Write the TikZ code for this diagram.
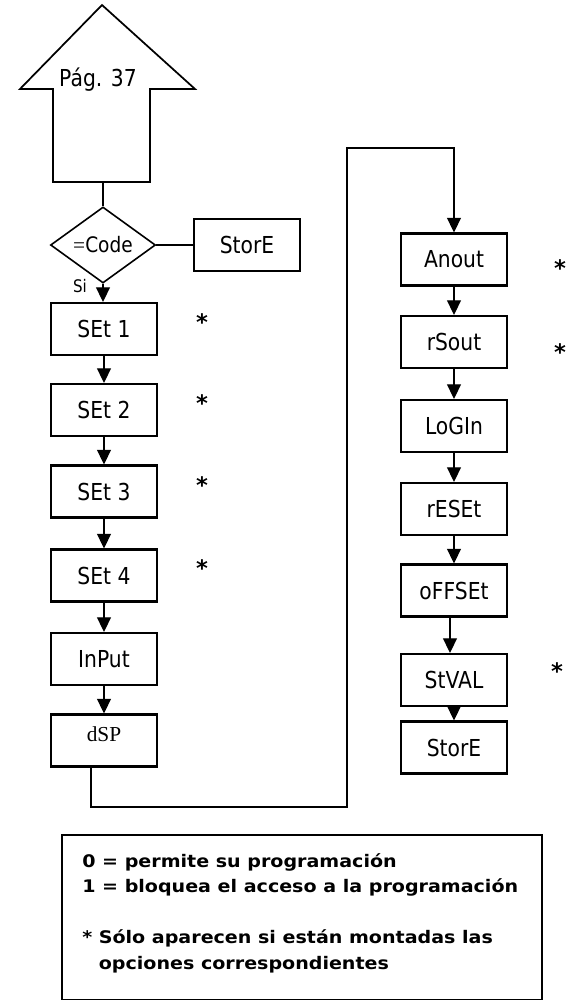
\documentclass[tikz,border=0pt]{standalone}
\usepackage{fontspec}
\setmainfont{DejaVu Sans}
\newfontfamily\boxfont[FakeStretch=0.87]{DejaVu Sans}
\newfontfamily\notefont[FakeStretch=1.1]{DejaVu Sans}
\newfontfamily\timesfont{Liberation Serif}
\usetikzlibrary{arrows.meta, shapes.geometric}
\tikzset{
    box/.style={rectangle, draw, line width=1.6pt, minimum width=79.5pt, minimum height=39pt, inner sep=0pt, font=\boxfont\fontsize{17.5}{20}\selectfont},
    decision/.style={diamond, draw, line width=1.2pt, minimum width=78.75pt, minimum height=38.25pt, inner sep=0pt, font=\boxfont\fontsize{16}{18}\selectfont},
    optmark/.style={inner sep=0pt, font=\bfseries\fontsize{17}{20}\selectfont},
    line/.style={-{Triangle[length=11pt, width=10.5pt]}, line width=1pt},
    wire/.style={line width=1pt}
}

\begin{document}
\begin{tikzpicture}[x=0.75pt, y=-0.75pt]
        	\useasboundingbox (0,0) rectangle (566,1001);
        	% flecha de entrada desde la pagina 37
        	\draw[line width=1.3pt] (102,5) -- (195,89) -- (150,89) -- (150,182) -- (53,182) -- (53,89) -- (20,89) -- cycle;
        	\node (pag) at (98,80) [font=\boxfont\fontsize{17.5}{20}\selectfont] {Pág. 37};
        	\coordinate (pagbot) at (103,182);
        	
        	% columna izquierda
        	\node (code) [decision] at (103,245) {{\timesfont =}Code};
        	\node (store1) [box] at (247,245) {StorE};
        	\node (si) at (80,286) [font=\boxfont\fontsize{13}{15}\selectfont] {Si};
        	\node (set1) [box] at (104,329) {SEt 1};
        	\node (set2) [box] at (104,410) {SEt 2};
        	\node (set3) [box] at (104,491.5) {SEt 3};
        	\node (set4) [box] at (104,575.5) {SEt 4};
        	\node (input) [box] at (104,659) {InPut};
        	\node (dSP) [box, font=\timesfont\fontsize{16}{18}\selectfont, text depth=10pt] at (104,740.5) {dSP};
        	
        	% columna derecha
        	\node (anout) [box] at (454,259.5) {Anout};
        	\node (rsout) [box] at (454,342) {rSout};
        	\node (login) [box] at (454,426) {LoGIn};
        	\node (reset) [box] at (454,509) {rESEt};
        	\node (offset) [box] at (454,590.5) {oFFSEt};
        	\node (stval) [box] at (454,680) {StVAL};
        	\node (store2) [box] at (454,747.5) {StorE};
        	
        	% opciones
        	\node (opt1) [optmark] at (202,322) {*};
        	\node (opt2) [optmark] at (202,403) {*};
        	\node (opt3) [optmark] at (202,485) {*};
        	\node (opt4) [optmark] at (202,568) {*};
        	\node (opt5) [optmark] at (560,268) {*};
        	\node (opt6) [optmark] at (560,352) {*};
        	\node (opt7) [optmark] at (557,671) {*};
        	
        	\draw[wire] (code.north |- pagbot) -- (code.north);
        	\draw[wire] (code.east) -- (code.east -| store1.west);
        	\draw[line] (code.south) -- (code.south |- set1.north);
        	\draw[line] (set1) -- (set2);
        	\draw[line] (set2) -- (set3);
        	\draw[line] (set3) -- (set4);
        	\draw[line] (set4) -- (input);
        	\draw[line] (input) -- (dSP);
        	
        	\coordinate (c1) at (91,807);
        	\coordinate (c2) at (347,148);
        	\draw[line] (dSP.south -| c1) -- (c1) -| (c2) -| (anout.north);
        	
        	\draw[line] (anout) -- (rsout);
        	\draw[line] (rsout) -- (login);
        	\draw[line] (login) -- (reset);
        	\draw[line] (reset) -- (offset);
        	\draw[line] ([xshift=-3pt]offset.south) -- ([xshift=-3pt]offset.south |- stval.north);
        	\draw[line] (stval) -- (store2);
        	
        	% leyenda
        	\draw[line width=1.4pt] (62,835) rectangle (542,999.5);
        	\node (legend) [anchor=north west, align=left, inner sep=0pt, font=\notefont\bfseries\fontsize{13}{19.1}\selectfont] at (82,853) {0 = permite su programación\\ 1 = bloquea el acceso a la programación\\[19.1pt] * Sólo aparecen si están montadas las\\ \hphantom{* }opciones correspondientes};
        	
        \end{tikzpicture}
\end{document}
